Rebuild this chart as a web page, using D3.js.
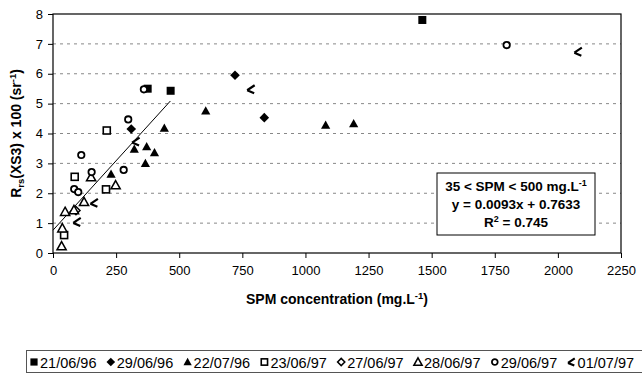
<!DOCTYPE html>
<html lang="en">
<head>
<meta charset="UTF-8">
<title>Rrs vs SPM</title>
<style>
    body { margin:0; background:#fff; }
    svg text { font-family: Arial, "Liberation Sans", sans-serif; fill:#000; }
    .grid line { stroke:#888; stroke-dasharray:3,4; }
    .tick text { font-size:13px; }
</style>
</head>
<body>
<script src="https://d3js.org/d3.v7.min.js"></script>
<script>
    // data
    var dates = ['21/06/96', '29/06/96', '22/07/96', '23/06/97', '27/06/97', '28/06/97', '29/06/97', '01/07/97'];
    var s210696 = [[375, 5.5], [466, 5.43], [1463, 7.8]];
    var s290696 = [[310, 4.15], [721, 5.95], [837, 4.53]];
    var s220796 = [[230, 2.64], [322, 3.48], [366, 3.0], [371, 3.56], [402, 3.36], [441, 4.18], [605, 4.76], [1080, 4.28], [1191, 4.33]];
    var s230697 = [[44, 0.6], [86, 2.55], [210, 2.13], [213, 4.1]];
    var s270697 = [[91, 1.42]];
    var s280697 = [[34, 0.23], [37, 0.83], [48, 1.38], [83, 1.44], [123, 1.71], [151, 2.54], [248, 2.27]];
    var s290697 = [[84, 2.14], [100, 2.04], [112, 3.28], [153, 2.71], [280, 2.78], [298, 4.47], [360, 5.48], [1797, 6.96]];
    var s010797 = [[96, 1.04], [164, 1.68], [329, 3.73], [785, 5.48], [2081, 6.74]];
    var seriesValues = [s210696, s290696, s220796, s230697, s270697, s280697, s290697, s010797];
    var xTicks = [0, 250, 500, 750, 1000, 1250, 1500, 1750, 2000, 2250];
    var yTicks = [0, 1, 2, 3, 4, 5, 6, 7, 8];
    var fitSlope = 0.0093, fitIntercept = 0.7633, fitRange = [0, 465];
    var noteLines = ['35 < SPM < 500 mg.L', 'y = 0.0093x + 0.7633', 'R', ' = 0.745'];

    var width = 642, height = 382,
        margin = {left: 53, top: 14, right: 21, bottom: 129},
        svg = d3.select('body').append('svg')
                .attr('width', width)
                .attr('height', height);

    var xScale = d3.scaleLinear().domain([0, 2250]).range([margin.left, width - margin.right]);
    var yScale = d3.scaleLinear().domain([0, 8]).range([height - margin.bottom, margin.top]);

    // marker kinds per series: [shape, filled]
    var kinds = [['square', true], ['diamond', true], ['triangle', true], ['square', false],
                 ['diamond', false], ['triangle', false], ['circle', false], ['cross', false]];

    function drawMarker(g, kind, s) {
        var shape = kind[0], filled = kind[1];
        if (shape == 'square') {
            var a = filled ? 8 * s : 7 * s;
            g.append('rect').attr('x', -a/2).attr('y', -a/2).attr('width', a).attr('height', a)
                .attr('fill', filled ? '#000' : '#fff').attr('stroke', '#000').attr('stroke-width', filled ? 0 : 1.6);
        } else if (shape == 'diamond') {
            var d = filled ? 4.8 * s : 4 * s;
            g.append('path').attr('d', 'M0,' + (-d) + 'L' + d + ',0L0,' + d + 'L' + (-d) + ',0Z')
                .attr('fill', filled ? '#000' : '#fff').attr('stroke', '#000').attr('stroke-width', filled ? 0 : 1.5);
        } else if (shape == 'triangle') {
            var t = 4.6 * s;
            g.append('path').attr('d', 'M0,' + (-t) + 'L' + t + ',' + (t * 0.8) + 'L' + (-t) + ',' + (t * 0.8) + 'Z')
                .attr('fill', filled ? '#000' : '#fff').attr('stroke', '#000').attr('stroke-width', filled ? 0 : 1.5);
        } else if (shape == 'circle') {
            g.append('circle').attr('r', 3.2 * s).attr('fill', '#fff').attr('stroke', '#000').attr('stroke-width', 1.8);
        } else {
            g.append('path').attr('d', 'M' + (-4 * s) + ',' + (1 * s) + 'L' + (3.5 * s) + ',' + (-4 * s) +
                    'M' + (-4 * s) + ',' + (1 * s) + 'L' + (3 * s) + ',' + (4 * s))
                .attr('fill', 'none').attr('stroke', '#000').attr('stroke-width', 2.2);
        }
    }

    renderGrid();
    renderAxes();
    renderFit();
    renderPoints();
    renderNote();
    renderLegend();

    function renderGrid() {
        svg.append('g').attr('class', 'grid')
            .selectAll('line').data(yTicks.slice(1, -1)).enter()
            .append('line')
            .attr('x1', xScale(0)).attr('x2', xScale(2250))
            .attr('y1', function(d){ return yScale(d); })
            .attr('y2', function(d){ return yScale(d); });
    }

    function renderAxes() {
        var xAxis = d3.axisBottom(xScale).tickValues(xTicks).tickFormat(d3.format('d')).tickSize(5).tickPadding(8);
        svg.append('g')
            .attr('transform', 'translate(0,' + yScale(0) + ')')
            .call(xAxis)
            .call(function(g){ g.select('.domain').remove(); });

        var yAxis = d3.axisLeft(yScale).tickValues(yTicks).tickFormat(d3.format('d')).tickSize(5).tickPadding(5);
        svg.append('g')
            .attr('transform', 'translate(' + xScale(0) + ',0)')
            .call(yAxis)
            .call(function(g){ g.select('.domain').remove(); });

        svg.append('rect')
            .attr('x', xScale(0)).attr('y', yScale(8))
            .attr('width', xScale(2250) - xScale(0)).attr('height', yScale(0) - yScale(8))
            .attr('fill', 'none').attr('stroke', '#000').attr('stroke-width', 1.2);

        var xl = svg.append('text')
            .attr('x', (xScale(0) + xScale(2250)) / 2).attr('y', 304)
            .attr('text-anchor', 'middle').attr('font-size', 14).attr('font-weight', 'bold');
        xl.append('tspan').text('SPM concentration (mg.L');
        xl.append('tspan').attr('font-size', 9.5).attr('dy', -5).text('-1');
        xl.append('tspan').attr('dy', 5).text(')');

        var yl = svg.append('text')
            .attr('transform', 'translate(21,' + yScale(4) + ') rotate(-90)')
            .attr('text-anchor', 'middle').attr('font-size', 14).attr('font-weight', 'bold');
        yl.append('tspan').text('R');
        yl.append('tspan').attr('font-size', 9.5).attr('dy', 3).text('rs');
        yl.append('tspan').attr('dy', -3).text('(XS3) x 100 (sr');
        yl.append('tspan').attr('font-size', 9.5).attr('dy', -5).text('-1');
        yl.append('tspan').attr('dy', 5).text(')');
    }

    function renderFit() {
        svg.append('line')
            .attr('x1', xScale(fitRange[0])).attr('y1', yScale(fitSlope * fitRange[0] + fitIntercept))
            .attr('x2', xScale(fitRange[1])).attr('y2', yScale(fitSlope * fitRange[1] + fitIntercept))
            .attr('stroke', '#000').attr('stroke-width', 1);
    }

    function renderPoints() {
        seriesValues.forEach(function(vals, i){
            svg.append('g').selectAll('g').data(vals).enter()
                .append('g')
                .attr('transform', function(d){ return 'translate(' + xScale(d[0]) + ',' + yScale(d[1]) + ')'; })
                .each(function(){ drawMarker(d3.select(this), kinds[i], 1); });
        });
    }

    function renderNote() {
        var bx = 437, by = 173, bw = 158, bh = 62;
        var g = svg.append('g');
        g.append('rect').attr('x', bx).attr('y', by).attr('width', bw).attr('height', bh)
            .attr('fill', '#fff').attr('stroke', '#000').attr('stroke-width', 1);
        var cx = bx + bw / 2;
        var t1 = g.append('text').attr('x', cx).attr('y', by + 18).attr('text-anchor', 'middle')
            .attr('font-size', 13.5).attr('font-weight', 'bold');
        t1.append('tspan').text(noteLines[0]);
        t1.append('tspan').attr('font-size', 9).attr('dy', -5).text('-1');
        g.append('text').attr('x', cx).attr('y', by + 36).attr('text-anchor', 'middle')
            .attr('font-size', 13.5).attr('font-weight', 'bold').text(noteLines[1]);
        var t3 = g.append('text').attr('x', cx).attr('y', by + 54).attr('text-anchor', 'middle')
            .attr('font-size', 13.5).attr('font-weight', 'bold');
        t3.append('tspan').text(noteLines[2]);
        t3.append('tspan').attr('font-size', 9).attr('dy', -5).text('2');
        t3.append('tspan').attr('dy', 5).text(noteLines[3]);
    }

    function renderLegend() {
        svg.append('rect').attr('x', 26.5).attr('y', 350.5).attr('width', 630).attr('height', 22)
            .attr('fill', 'none').attr('stroke', '#555').attr('stroke-width', 1);
        var items = svg.append('g').selectAll('g').data(dates).enter()
            .append('g')
            .attr('transform', function(d, i){ return 'translate(' + (34 + i * 76.8) + ',362)'; });
        items.each(function(d, i){ drawMarker(d3.select(this), kinds[i], 0.9); });
        items.append('text').attr('x', 6).attr('y', 5.5).attr('font-size', 14.5).text(function(d){ return d; });
    }
</script>
</body>
</html>
